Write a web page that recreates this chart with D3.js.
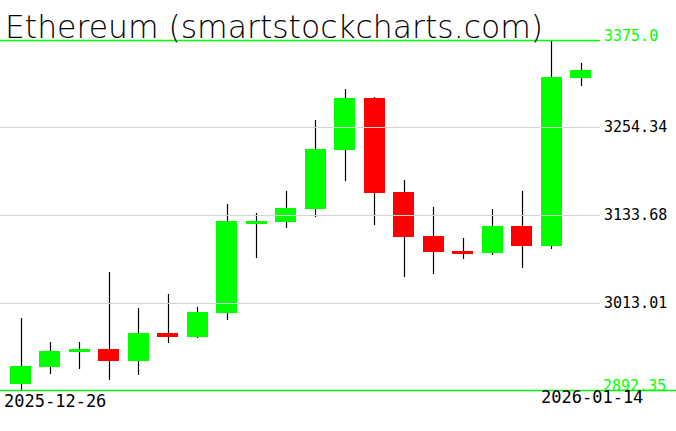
<!DOCTYPE html>
<html><head><meta charset="utf-8">
<script src="https://cdn.jsdelivr.net/npm/d3@7"></script>
<style>html,body{margin:0;padding:0;background:#fff;overflow:hidden}</style>
</head><body>
<svg id="c" width="676" height="431"></svg>
<script>
const title = "Ethereum (smartstockcharts.com)";
const dates = ["2025-12-26","2025-12-27","2025-12-28","2025-12-29","2025-12-30","2025-12-31","2026-01-01","2026-01-02","2026-01-03","2026-01-04","2026-01-05","2026-01-06","2026-01-07","2026-01-08","2026-01-09","2026-01-10","2026-01-11","2026-01-12","2026-01-13","2026-01-14"];
const opens  = [2900.6,2924.1,2944.8,2948.9,2932.3,2971.0,2965.4,2998.5,3122.6,3124.0,3141.9,3223.3,3295.0,3165.4,3104.7,3084.1,3081.3,3118.5,3090.9,3322.6];
const highs  = [2991.6,2958.5,2958.5,3055.1,3005.4,3024.7,3006.8,3148.8,3136.4,3166.8,3264.7,3307.4,3296.4,3181.9,3144.7,3102.0,3141.9,3166.8,3375.0,3343.3];
const lows   = [2892.35,2914.4,2921.3,2906.1,2913.0,2957.2,2964.0,2988.9,3074.4,3115.7,3130.9,3180.6,3119.9,3048.2,3052.3,3073.0,3078.5,3060.6,3086.8,3311.6];
const closes = [2925.4,2946.1,2948.9,2932.3,2971.0,2965.4,3000.0,3125.4,3125.4,3143.3,3224.7,3295.0,3164.0,3103.3,3082.7,3081.3,3118.5,3090.9,3324.0,3333.6];
const gridTicks = [3254.34,3133.68,3013.01];
const tickLabels = ["3254.34","3133.68","3013.01"];
const yMax = 3375.0, yMin = 2892.35;
const maxLabel = "3375.0", minLabel = "2892.35";
const dateLabels = ["2025-12-26","2026-01-14"];

const svg = d3.select("#c");
const y = d3.scaleLinear().domain([yMin, yMax]).range([390, 40]);
const x = d3.scalePoint().domain(dates).range([20.5, 580.5]);
const bw = 21;

const data = dates.map((d,i)=>({d, o:opens[i], h:highs[i], l:lows[i], c:closes[i]}));

// wicks
svg.append("g").selectAll("line").data(data).join("line")
  .attr("x1", d=>Math.round(x(d.d))+0.5).attr("x2", d=>Math.round(x(d.d))+0.5)
  .attr("y1", d=>y(d.h)).attr("y2", d=>y(d.l))
  .attr("stroke","#000").attr("stroke-width",1.2);
// bodies
svg.append("g").selectAll("rect").data(data).join("rect")
  .attr("x", d=>Math.round(x(d.d) - bw/2))
  .attr("width", bw)
  .attr("y", d=>Math.round(y(Math.max(d.o,d.c))))
  .attr("height", d=>Math.max(3, Math.round(Math.abs(y(d.o)-y(d.c)))))
  .attr("fill", d=> d.c >= d.o ? "#00ff00" : "#ff0000");

// grid
svg.append("g").selectAll("line").data(gridTicks).join("line")
  .attr("x1",0).attr("x2",600)
  .attr("y1",d=>Math.round(y(d))+0.5).attr("y2",d=>Math.round(y(d))+0.5)
  .attr("stroke","#d3d3d3").attr("stroke-width",1);

// top/bottom green lines
svg.append("line").attr("x1",0).attr("x2",600).attr("y1",Math.round(y(yMax))+0.5).attr("y2",Math.round(y(yMax))+0.5)
  .attr("stroke","#00ff00").attr("stroke-width",1.3);
svg.append("line").attr("x1",0).attr("x2",676).attr("y1",Math.round(y(yMin))+0.5).attr("y2",Math.round(y(yMin))+0.5)
  .attr("stroke","#00ff00").attr("stroke-width",1.3);

const mono = "'DejaVu Sans Mono', 'Liberation Mono', monospace";
svg.append("g").selectAll("text").data(gridTicks).join("text")
  .attr("x",604).attr("y",d=>y(d)+5)
  .attr("font-family",mono).attr("font-size",15).attr("fill","#000")
  .text((d,i)=>tickLabels[i]);
svg.append("text").attr("x",604).attr("y",y(yMax)+1)
  .attr("font-family",mono).attr("font-size",15).attr("fill","#00ff00").text(maxLabel);
svg.append("text").attr("x",603).attr("y",y(yMin)+1)
  .attr("font-family",mono).attr("font-size",15).attr("fill","#00ff00").text(minLabel);

svg.append("text").attr("x",4).attr("y",407)
  .attr("font-family",mono).attr("font-size",17).attr("fill","#000").text(dateLabels[0]);
svg.append("text").attr("x",541).attr("y",403)
  .attr("font-family",mono).attr("font-size",17).attr("fill","#000").text(dateLabels[1]);

svg.append("text").attr("x",5).attr("y",38)
  .attr("font-family","'DejaVu Sans', sans-serif").attr("font-weight",200).attr("font-size",32)
  .attr("textLength",538).attr("lengthAdjust","spacingAndGlyphs")
  .attr("fill","#000").text(title);
</script>
</body></html>
